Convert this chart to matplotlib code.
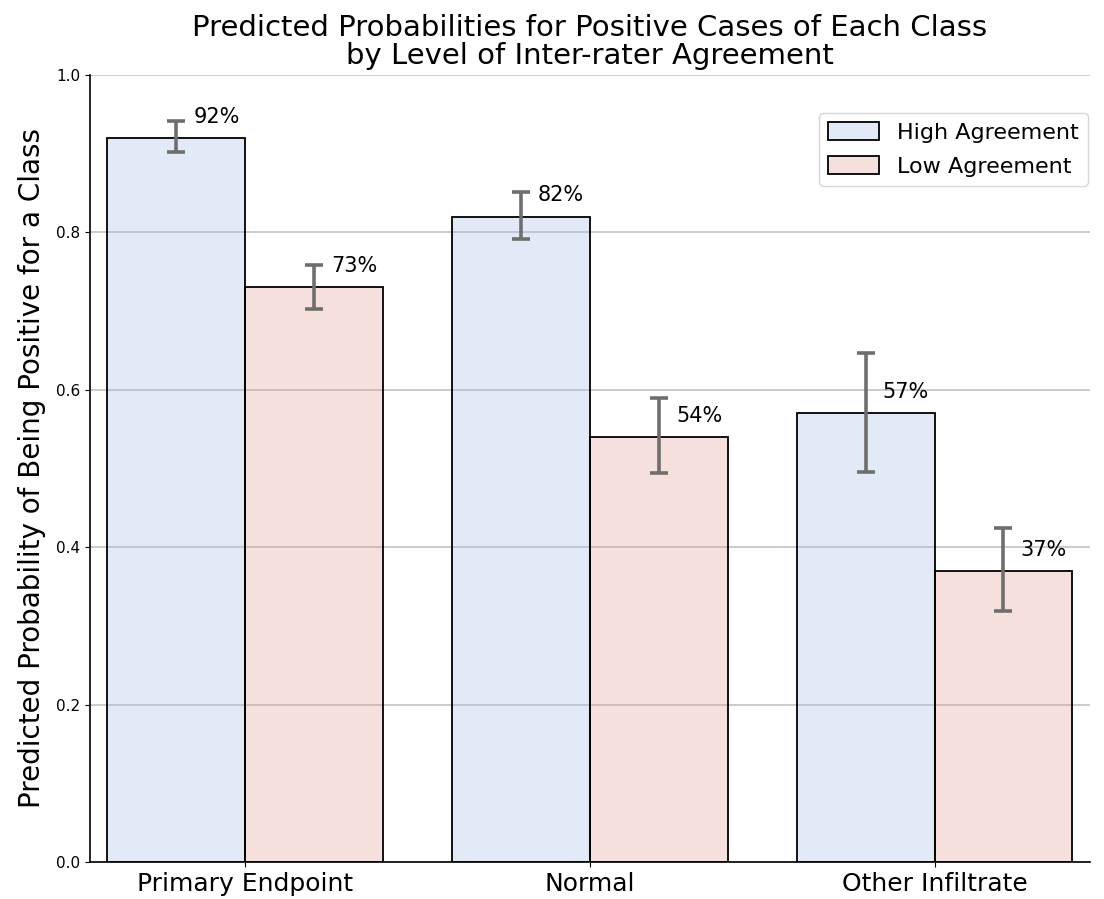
import numpy as np
import matplotlib
matplotlib.use("Agg")
import matplotlib.pyplot as plt
from matplotlib.colors import to_rgba

classes = ["Primary Endpoint", "Normal", "Other Infiltrate"]
high_prob = [0.92, 0.82, 0.57]
low_prob = [0.73, 0.54, 0.37]
# lower / upper ends of the intervals
high_lo = [0.902, 0.792, 0.496]
high_hi = [0.942, 0.851, 0.647]
low_lo = [0.703, 0.494, 0.319]
low_hi = [0.759, 0.589, 0.424]

width = 0.4
x = np.arange(len(classes))

fig = plt.figure(figsize=(11.04, 8.99), dpi=100)
ax = fig.add_axes([0.0815, 0.0412, 0.9055, 0.8754])

series = [
    ("High Agreement", high_prob, high_lo, high_hi, to_rgba("#a2bce8", 0.3), -width / 2),
    ("Low Agreement", low_prob, low_lo, low_hi, to_rgba("#de9a90", 0.3), width / 2),
]

for name, vals, lo, hi, col, off in series:
    vals = np.array(vals)
    pos = x + off
    ax.bar(pos, vals, width, color=col, edgecolor="black", linewidth=1.3, label=name, zorder=1)
    yerr = [vals - np.array(lo), np.array(hi) - vals]
    ax.errorbar(pos, vals, yerr=yerr, fmt="none", ecolor="#6e6e6e", elinewidth=2.6,
                capsize=6.5, capthick=2.6, zorder=3)
    for p, v in zip(pos, vals):
        ax.text(p + 0.05, v + 0.027, f"{v:.0%}", ha="left", va="center", fontsize=15)

ax.set_xlim(-0.45, 2.45)
ax.set_ylim(0, 1.0)
ax.set_yticks([0.0, 0.2, 0.4, 0.6, 0.8, 1.0])
ax.set_xticks(x)
ax.set_xticklabels(classes, fontsize=18)
ax.tick_params(axis="y", labelsize=11)
ax.yaxis.grid(True, color="#bdbdbd", linewidth=1.1, zorder=0)
ax.set_axisbelow(True)
ax.spines["top"].set_visible(False)
ax.spines["right"].set_visible(False)
ax.spines["left"].set_linewidth(1.2)
ax.spines["bottom"].set_linewidth(1.2)

ax.set_ylabel("Predicted Probability of Being Positive for a Class", fontsize=20, labelpad=7)
ax.set_title("Predicted Probabilities for Positive Cases of Each Class\nby Level of Inter-rater Agreement",
             fontsize=21, linespacing=1.0, pad=8)
ax.legend(loc="upper right", fontsize=16, bbox_to_anchor=(0.998, 0.952), borderaxespad=0,
          handlelength=2.3, handleheight=0.9, labelspacing=0.6)

fig.savefig("out.png", dpi=100)
